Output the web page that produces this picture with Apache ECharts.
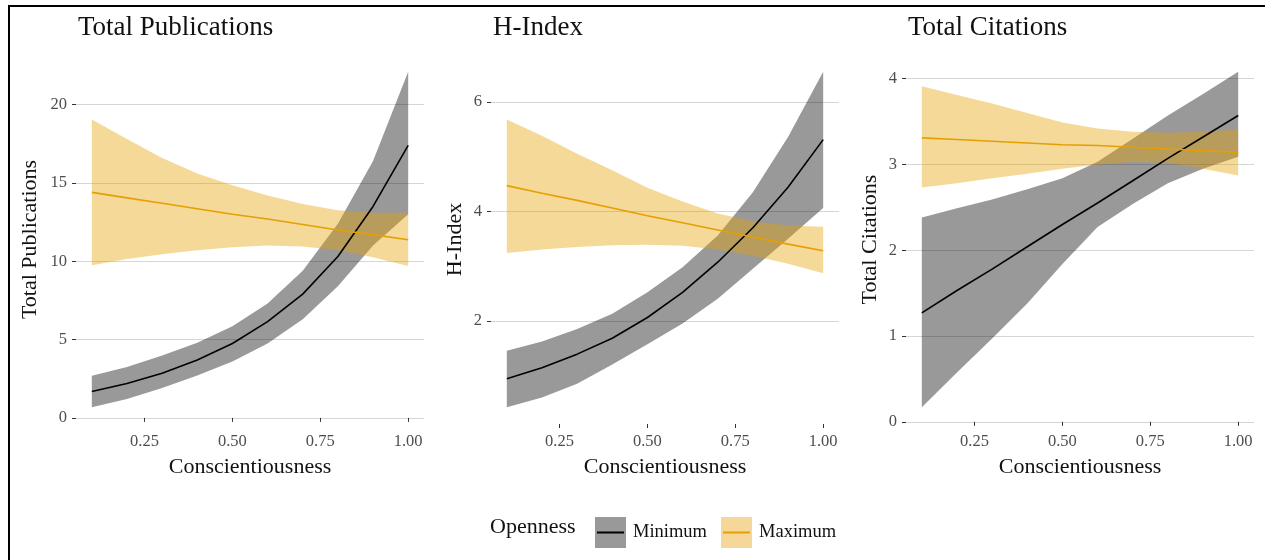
<!DOCTYPE html>
<html>
<head>
<meta charset="utf-8">
<script src="https://cdn.jsdelivr.net/npm/echarts@6.0.0/dist/echarts.min.js"></script>
<style>
  html, body { margin: 0; padding: 0; background: #fff; }
  #chart { width: 1265px; height: 560px; }
</style>
</head>
<body>
<div id="chart"></div>
<script>
// predicted values at each conscientiousness level, Openness = Minimum / Maximum
const conscientiousness = [0.1, 0.2, 0.3, 0.4, 0.5, 0.6, 0.7, 0.8, 0.9, 1.0];

const pubMinFit = [1.69, 2.2, 2.85, 3.7, 4.75, 6.15, 7.9, 10.3, 13.5, 17.4];
const pubMinLo  = [0.68, 1.2, 1.9, 2.7, 3.6, 4.75, 6.3, 8.4, 11.0, 13.0];
const pubMinHi  = [2.69, 3.25, 3.99, 4.8, 5.85, 7.3, 9.4, 12.4, 16.4, 22.1];
const pubMaxFit = [14.4, 14.05, 13.7, 13.35, 13.0, 12.7, 12.35, 12.0, 11.7, 11.37];
const pubMaxLo  = [9.74, 10.15, 10.45, 10.7, 10.9, 11.0, 10.95, 10.7, 10.25, 9.7];
const pubMaxHi  = [19.06, 17.8, 16.6, 15.6, 14.85, 14.2, 13.65, 13.25, 13.1, 13.1];

const hMinFit = [0.94, 1.14, 1.39, 1.68, 2.06, 2.52, 3.07, 3.7, 4.44, 5.31];
const hMinLo  = [0.42, 0.6, 0.85, 1.2, 1.57, 1.95, 2.4, 2.95, 3.5, 4.06];
const hMinHi  = [1.45, 1.62, 1.85, 2.13, 2.52, 2.98, 3.56, 4.35, 5.36, 6.55];
const hMaxFit = [4.47, 4.33, 4.2, 4.06, 3.92, 3.79, 3.66, 3.53, 3.4, 3.28];
const hMaxLo  = [3.24, 3.3, 3.35, 3.38, 3.39, 3.37, 3.3, 3.19, 3.04, 2.87];
const hMaxHi  = [5.68, 5.38, 5.05, 4.75, 4.43, 4.18, 3.96, 3.82, 3.74, 3.72];

const citMinFit = [1.27, 1.53, 1.78, 2.04, 2.3, 2.55, 2.81, 3.07, 3.32, 3.57];
const citMinLo  = [0.17, 0.575, 0.97, 1.38, 1.84, 2.27, 2.54, 2.78, 2.95, 3.09];
const citMinHi  = [2.38, 2.49, 2.59, 2.71, 2.84, 3.03, 3.30, 3.57, 3.82, 4.08];
const citMaxFit = [3.31, 3.29, 3.27, 3.25, 3.23, 3.22, 3.2, 3.18, 3.16, 3.14];
const citMaxLo  = [2.73, 2.78, 2.84, 2.89, 2.95, 3.0, 3.03, 3.02, 2.95, 2.87];
const citMaxHi  = [3.91, 3.81, 3.71, 3.60, 3.49, 3.42, 3.38, 3.37, 3.38, 3.41];

const xTicks = [0.25, 0.5, 0.75, 1.0];
const pubTicks = [0, 5, 10, 15, 20];
const hTicks = [2, 4, 6];
const citTicks = [0, 1, 2, 3, 4];

const legendNames = ['Minimum', 'Maximum'];

const FONT = '"Liberation Serif", "DejaVu Serif", serif';
const GREY_FILL = 'rgba(0,0,0,0.4)';
const GOLD_FILL = 'rgba(230,159,0,0.4)';
const GOLD = '#E69F00';

const panels = [
  { title: 'Total Publications', left: 76, nameGap: 35, ticks: pubTicks,
    min: [pubMinFit, pubMinLo, pubMinHi], max: [pubMaxFit, pubMaxLo, pubMaxHi] },
  { title: 'H-Index', left: 491, nameGap: 25, ticks: hTicks,
    min: [hMinFit, hMinLo, hMinHi], max: [hMaxFit, hMaxLo, hMaxHi] },
  { title: 'Total Citations', left: 906, nameGap: 25, ticks: citTicks,
    min: [citMinFit, citMinLo, citMinHi], max: [citMaxFit, citMaxLo, citMaxHi] }
];

// ggplot-like 5% expansion of the data range
function expand(lo, hi) {
  const pad = (hi - lo) * 0.05;
  return [lo - pad, hi + pad];
}

function pairs(ys) {
  return conscientiousness.map((x, i) => [x, ys[i]]);
}

// one polygon per ribbon, drawn through the axis scales
function ribbon(i, lo, hi, fill) {
  return {
    type: 'custom', xAxisIndex: i, yAxisIndex: i, silent: true,
    data: conscientiousness.map((x, k) => [x, lo[k], hi[k]]),
    encode: { x: 0, y: [1, 2] },
    renderItem: (params, api) => {
      if (params.dataIndex !== 0) return null;
      const pts = [];
      conscientiousness.forEach((x, k) => pts.push(api.coord([x, hi[k]])));
      for (let k = conscientiousness.length - 1; k >= 0; k--) {
        pts.push(api.coord([conscientiousness[k], lo[k]]));
      }
      return { type: 'polygon', shape: { points: pts }, style: { fill: fill, stroke: null } };
    }
  };
}

function keyIcon(fill, stroke) {
  const svg = '<svg xmlns="http://www.w3.org/2000/svg" width="31" height="31">' +
    '<rect width="31" height="31" fill="' + fill + '"/>' +
    '<line x1="2" y1="15.5" x2="29" y2="15.5" stroke="' + stroke + '" stroke-width="2"/></svg>';
  return 'image://data:image/svg+xml;charset=utf-8,' + encodeURIComponent(svg);
}

const [xMin, xMax] = expand(conscientiousness[0], conscientiousness[conscientiousness.length - 1]);

const grids = [], xAxes = [], yAxes = [], titles = [], series = [];

panels.forEach((p, i) => {
  const all = p.min[1].concat(p.min[2], p.max[1], p.max[2]);
  const [yMin, yMax] = expand(Math.min(...all), Math.max(...all));

  grids.push({ left: p.left, top: 55, width: 348, height: 369 });
  titles.push({
    text: p.title, left: p.left - 3, top: 9,
    textStyle: { fontFamily: FONT, fontSize: 27, fontWeight: 'normal', color: '#111' }
  });

  xAxes.push({
    type: 'value', gridIndex: i, min: xMin, max: xMax,
    name: 'Conscientiousness', nameLocation: 'middle', nameGap: 32,
    nameTextStyle: { fontFamily: FONT, fontSize: 22, color: '#111' },
    axisLine: { show: false },
    axisTick: { show: true, length: 4, customValues: xTicks, lineStyle: { color: '#333', width: 1 } },
    axisLabel: { customValues: xTicks, margin: 9, fontFamily: FONT, fontSize: 16.5, color: '#4d4d4d',
      formatter: v => v.toFixed(2) },
    splitLine: { show: false }
  });

  yAxes.push({
    type: 'value', gridIndex: i, min: yMin, max: yMax,
    name: p.title, nameLocation: 'middle', nameGap: p.nameGap,
    nameTextStyle: { fontFamily: FONT, fontSize: 22, color: '#111' },
    axisLine: { show: false },
    axisTick: { show: true, length: 4, customValues: p.ticks, lineStyle: { color: '#333', width: 1 } },
    axisLabel: { customValues: p.ticks, margin: 9, fontFamily: FONT, fontSize: 16.5, color: '#4d4d4d' },
    splitLine: { show: true, lineStyle: { color: '#d6d6d6', width: 1 } }
  });

  series.push(ribbon(i, p.min[1], p.min[2], GREY_FILL));
  series.push(ribbon(i, p.max[1], p.max[2], GOLD_FILL));

  series.push({
    type: 'line', name: 'Minimum', xAxisIndex: i, yAxisIndex: i, z: 5,
    data: pairs(p.min[0]), symbol: 'none', silent: true,
    lineStyle: { color: '#000', width: 1.6 }, itemStyle: { color: '#000' }
  });
  series.push({
    type: 'line', name: 'Maximum', xAxisIndex: i, yAxisIndex: i, z: 5,
    data: pairs(p.max[0]), symbol: 'none', silent: true,
    lineStyle: { color: GOLD, width: 1.6 }, itemStyle: { color: GOLD }
  });
});

titles.push({
  text: 'Openness', left: 485, top: 511,
  textStyle: { fontFamily: FONT, fontSize: 22, fontWeight: 'normal', color: '#111' }
});

const chart = echarts.init(document.getElementById('chart'));
chart.setOption({
  animation: false,
  backgroundColor: '#fff',
  title: titles,
  grid: grids,
  xAxis: xAxes,
  yAxis: yAxes,
  legend: {
    left: 590, top: 512, itemWidth: 31, itemHeight: 31, itemGap: 14,
    selectedMode: false,
    data: [
      { name: legendNames[0], icon: keyIcon('#999999', '#000000') },
      { name: legendNames[1], icon: keyIcon('#F5D899', GOLD) }
    ],
    textStyle: { fontFamily: FONT, fontSize: 18.5, color: '#111', padding: [0, 0, 0, 2] }
  },
  graphic: [
    { type: 'line', shape: { x1: 9, y1: 6, x2: 1265, y2: 6 }, style: { stroke: '#000', lineWidth: 2 } },
    { type: 'line', shape: { x1: 9, y1: 5, x2: 9, y2: 560 }, style: { stroke: '#000', lineWidth: 2 } }
  ],
  series: series
});
</script>
</body>
</html>
